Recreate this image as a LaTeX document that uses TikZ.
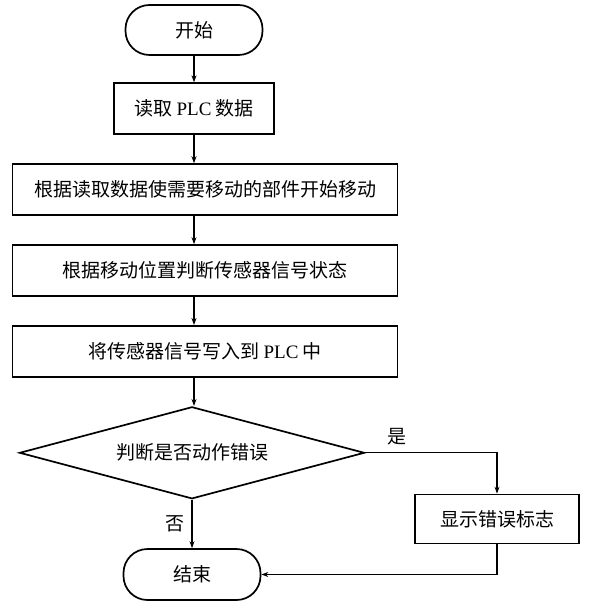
\documentclass[tikz,border=0pt]{standalone}
\usepackage{fontspec}
\setmainfont{Liberation Serif}
\newfontfamily\cjk{Noto Sans CJK SC}
\newcommand{\plc}{{\rmfamily PLC}}
\usetikzlibrary{arrows.meta,positioning,shapes.geometric}
\tikzset{
    %Define standard arrow tip
    >={Stealth[length=7pt,width=5pt]},
    %Define style for text
    tekst/.style={
           font=\cjk\fontsize{19}{22}\selectfont},
    %Define style for boxes
    punkt/.style={
           tekst,
           rectangle,
           draw=black,
           line width=1.7pt,
           minimum height=51pt,
           text centered},
    %Define style for start and end
    kapsel/.style={
           punkt,
           rounded corners=24pt,
           minimum width=137pt},
    %Define style for decision
    rute/.style={
           tekst,
           diamond,
           aspect=3.76,
           draw=black,
           line width=1.7pt,
           minimum width=345pt,
           minimum height=92pt,
           inner sep=0pt},
    % Define arrow style
    pil/.style={
           ->,
           line width=1.1pt}
}

\begin{document}
\begin{tikzpicture}[x=1pt, y=-1pt, node distance=28.2pt]
  \useasboundingbox (0,0) rectangle (588,609);
  \node[kapsel, minimum height=50pt] (start) at (194,30) {开始};
  \node[punkt, minimum width=160pt, below=26.5pt of start] (read) {读取 \plc{} 数据};
  \node[punkt, minimum width=385pt, below=of read, xshift=11pt] (move) {根据读取数据使需要移动的部件开始移动};
  \node[punkt, minimum width=385pt, below=of move] (sense) {根据移动位置判断传感器信号状态};
  \node[punkt, minimum width=385pt, below=of sense] (write) {将传感器信号写入到 \plc{} 中};
  \node[rute, below=of write, xshift=-13pt] (check) {判断是否动作错误};
  \node[kapsel, below=48.5pt of check] (end) {结束};
  \node[punkt, minimum width=164pt, minimum height=49pt] (error) at (497,519) {显示错误标志};

  \draw[pil] (start) -- (read);
  \draw[pil] (read.south) -- (read.south |- move.north);
  \draw[pil] (read.south |- move.south) -- (read.south |- sense.north);
  \draw[pil] (read.south |- sense.south) -- (read.south |- write.north);
  \draw[pil] (read.south |- write.south) -- (read.south |- check.north);
  \draw[pil] (check) -- node[tekst, left, xshift=-4pt] {否} (end);
  \draw[pil] (check.east) -| node[tekst, pos=0.12, above, yshift=4pt] {是} (error);
  \draw[pil] (error) |- (end);
\end{tikzpicture}
\end{document}
